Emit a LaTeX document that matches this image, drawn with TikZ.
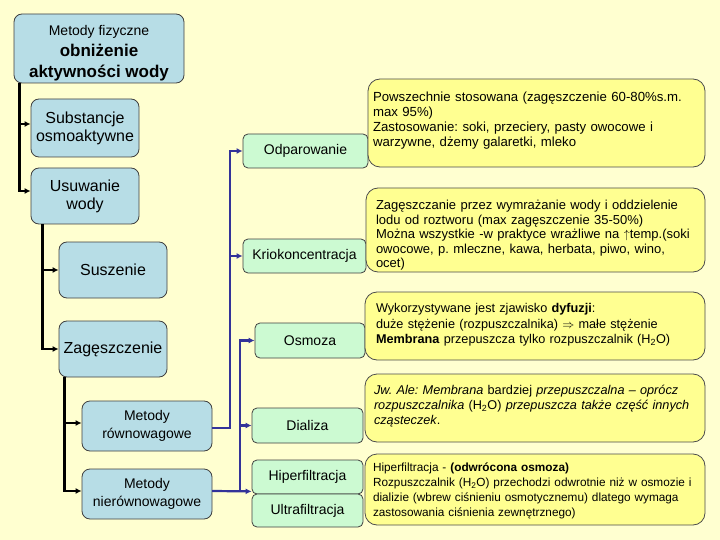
\documentclass[tikz,border=0pt]{standalone}
\usepackage{fontspec}
\setmainfont{Liberation Sans}
\usetikzlibrary{arrows.meta}
\definecolor{bgc}{RGB}{255,255,208}
\definecolor{bluec}{RGB}{183,221,230}
\definecolor{greenc}{RGB}{204,250,210}
\definecolor{yelc}{RGB}{255,255,145}
\definecolor{linkc}{RGB}{51,51,153}
\newcommand\myfs[2]{\fontsize{#1}{#2}\selectfont}
\tikzset{
  bluebox/.style={draw=black!75, line width=0.8pt, fill=bluec, rounded corners=8pt, align=center, inner sep=1pt, font=\myfs{16}{18}},
  greenbox/.style={draw=black!75, line width=0.8pt, fill=greenc, rounded corners=5pt, align=center, inner sep=1pt, font=\myfs{14}{16}},
  yelbox/.style={draw=black!70, line width=0.8pt, fill=yelc, rounded corners=12pt, align=left, inner ysep=0pt},
  blk/.style={line width=2.5pt, draw=black, -{Latex[length=6pt,width=6pt]}},
  blu/.style={line width=2.2pt, draw=linkc, -{Latex[length=6pt,width=6pt]}}
}
\begin{document}
\frenchspacing
\begin{tikzpicture}[x=1pt,y=-1pt]
\fill[bgc] (0,0) rectangle (720,540);
\useasboundingbox (0,0) rectangle (720,540);

% left blue boxes
\node[bluebox, minimum width=170pt, minimum height=69pt, font=\myfs{14}{21}] (top) at (99,48.5)
  {\rule{0pt}{19pt}Metody fizyczne\\ \textbf{\myfs{17}{21}obniżenie}\\ \textbf{\myfs{17}{21}aktywności wody}};
\node[bluebox, minimum width=108pt, minimum height=58pt] (subst) at (85,128) {Substancje\\osmoaktywne};
\node[bluebox, minimum width=108pt, minimum height=56pt] (usuw) at (85,196) {Usuwanie\\wody};
\node[bluebox, minimum width=108pt, minimum height=56pt] (susz) at (113,270) {Suszenie};
\node[bluebox, minimum width=108pt, minimum height=56pt] (zag) at (113,349) {Zagęszczenie};
\node[bluebox, minimum width=130pt, minimum height=50pt, font=\myfs{14}{18}] (rown) at (147,426) {Metody\\równowagowe};
\node[bluebox, minimum width=130pt, minimum height=50pt, font=\myfs{14}{18}] (nierown) at (147,494) {Metody\\nierównowagowe};

% green boxes
\node[greenbox, minimum width=125pt, minimum height=34pt] (odpar) at (305.5,151) {Odparowanie};
\node[greenbox, minimum width=123pt, minimum height=34pt] (krio) at (304.5,256) {Kriokoncentracja};
\node[greenbox, minimum width=110pt, minimum height=35pt] (osmoza) at (310,340.5) {Osmoza};
\node[greenbox, minimum width=111pt, minimum height=35pt] (dializa) at (307.5,425.5) {Dializa};
\node[greenbox, minimum width=111pt, minimum height=34pt] (hiper) at (307.5,477) {Hiperfiltracja};
\node[greenbox, minimum width=111pt, minimum height=33pt] (ultra) at (307.5,510.5) {Ultrafiltracja};

% yellow boxes
\node[yelbox, inner xsep=5pt, text width=327pt, minimum height=88pt, text height=23pt, text depth=65pt, font=\myfs{13.2}{14.8}\frenchspacing] (y1) at (536.5,123)
  {\mbox{Powszechnie stosowana (zagęszczenie 60-80\%s.m.}\\ max 95\%)\\ \mbox{Zastosowanie: soki, przeciery, pasty owocowe i}\\ warzywne, dżemy galaretki, mleko};
\node[yelbox, inner xsep=10pt, text width=319pt, minimum height=84pt, text height=22pt, text depth=62pt, font=\myfs{13}{14.5}\frenchspacing] (y2) at (535.5,230)
  {\mbox{Zagęszczanie przez wymrażanie wody i oddzielenie}\\ lodu od roztworu (max zagęszczenie 35-50\%)\\ \mbox{Można wszystkie -w praktyce wrażliwe na $\uparrow$temp.(soki}\\ owocowe, p. mleczne, kawa, herbata, piwo, wino,\\ ocet)};
\node[yelbox, inner xsep=11pt, text width=318pt, minimum height=68pt, text height=20.5pt, text depth=47.5pt, font=\myfs{12.7}{15.5}\frenchspacing] (y3) at (535,326)
  {Wykorzystywane jest zjawisko \textbf{dyfuzji}:\\ duże stężenie (rozpuszczalnika) $\Rightarrow$ małe stężenie\\ \mbox{\textbf{Membrana} przepuszcza tylko rozpuszczalnik (H\textsubscript{2}O)}};
\node[yelbox, inner xsep=9pt, text width=322pt, minimum height=68pt, text height=20.5pt, text depth=47.5pt, font=\myfs{12.7}{15}\frenchspacing] (y4) at (535,408)
  {\mbox{\textit{Jw. Ale: Membrana} bardziej \textit{przepuszczalna – oprócz}}\\ \mbox{\textit{rozpuszczalnika} (H\textsubscript{2}O) \textit{przepuszcza także część innych}}\\ \textit{cząsteczek}.};
\node[yelbox, inner xsep=8pt, text width=324pt, minimum height=71pt, text height=17.5pt, text depth=53.5pt, font=\myfs{11.8}{15}\frenchspacing] (y5) at (535,489.5)
  {Hiperfiltracja - \textbf{(odwrócona osmoza)}\\ \mbox{Rozpuszczalnik (H\textsubscript{2}O) przechodzi odwrotnie niż w osmozie i}\\ \mbox{dializie (wbrew ciśnieniu osmotycznemu) dlatego wymaga}\\ zastosowania ciśnienia zewnętrznego)};

% black connectors
\draw[blk] ([xshift=6pt]top.south west) |- ([yshift=4pt]subst.west);
\draw[blk] ([xshift=6pt]top.south west) |- ([yshift=5pt]usuw.west);
\draw[blk] ([xshift=12pt]usuw.south west) |- (susz.west);
\draw[blk] ([xshift=12pt]usuw.south west) |- (zag.west);
\draw[blk] ([xshift=6pt]zag.south west) |- ([yshift=3pt]rown.west);
\draw[blk] ([xshift=6pt]zag.south west) |- ([yshift=3pt]nierown.west);

% blue connectors
\coordinate (busA) at (230,300);
\coordinate (busB) at (240,400);
\draw[blu] ([yshift=-2pt]rown.east) -| ([xshift=-13pt]odpar.west) -- (odpar.west);
\draw[blu] (busA |- krio.west) -- (krio.west);
\draw[blu] ([yshift=3pt]nierown.east) -- ([yshift=3pt]hiper.south west);
\draw[blu] ([yshift=3pt]nierown.east) -| ([xshift=-15pt]osmoza.west) -- (osmoza.west);
\draw[blu] (busB |- dializa.west) -- (dializa.west);
\end{tikzpicture}
\end{document}
